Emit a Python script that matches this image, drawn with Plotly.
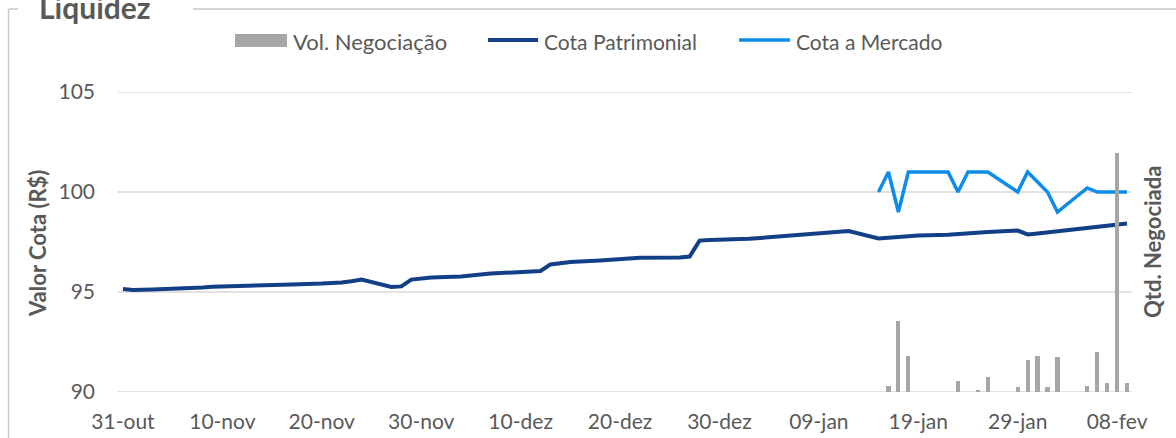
import plotly.graph_objects as go

# ---------------- data ----------------
cp_dates = ["2023-10-31", "2023-11-01", "2023-11-03", "2023-11-06", "2023-11-07", "2023-11-08",
            "2023-11-09", "2023-11-10", "2023-11-13", "2023-11-14", "2023-11-16", "2023-11-17",
            "2023-11-20", "2023-11-21", "2023-11-22", "2023-11-23", "2023-11-24", "2023-11-27",
            "2023-11-28", "2023-11-29", "2023-11-30", "2023-12-01", "2023-12-04", "2023-12-05",
            "2023-12-06", "2023-12-07", "2023-12-08", "2023-12-11", "2023-12-12", "2023-12-13",
            "2023-12-14", "2023-12-15", "2023-12-18", "2023-12-19", "2023-12-20", "2023-12-21",
            "2023-12-22", "2023-12-26", "2023-12-27", "2023-12-28", "2023-12-29", "2024-01-02",
            "2024-01-03", "2024-01-04", "2024-01-05", "2024-01-08", "2024-01-09", "2024-01-10",
            "2024-01-11", "2024-01-12", "2024-01-15", "2024-01-16", "2024-01-17", "2024-01-18",
            "2024-01-19", "2024-01-22", "2024-01-23", "2024-01-24", "2024-01-25", "2024-01-26",
            "2024-01-29", "2024-01-30", "2024-01-31", "2024-02-01", "2024-02-02", "2024-02-05",
            "2024-02-06", "2024-02-07", "2024-02-08", "2024-02-09"]
cota_patrimonial = [95.15, 95.10, 95.12, 95.16, 95.18, 95.22,
                    95.26, 95.28, 95.31, 95.33, 95.36, 95.38,
                    95.42, 95.44, 95.47, 95.54, 95.62, 95.25,
                    95.28, 95.62, 95.68, 95.73, 95.78, 95.84,
                    95.89, 95.92, 95.95, 96.00, 96.05, 96.38,
                    96.45, 96.50, 96.58, 96.62, 96.66, 96.70,
                    96.71, 96.72, 96.77, 97.57, 97.60, 97.66,
                    97.70, 97.74, 97.78, 97.88, 97.92, 97.96,
                    98.00, 98.05, 97.68, 97.72, 97.76, 97.80,
                    97.82, 97.86, 97.90, 97.94, 97.98, 98.00,
                    98.07, 97.88, 97.93, 97.98, 98.03, 98.22,
                    98.28, 98.33, 98.38, 98.42]

cm_dates = ["2024-01-15", "2024-01-16", "2024-01-17", "2024-01-18", "2024-01-19", "2024-01-22",
            "2024-01-23", "2024-01-24", "2024-01-25", "2024-01-26", "2024-01-29", "2024-01-30",
            "2024-01-31", "2024-02-01", "2024-02-02", "2024-02-05", "2024-02-06", "2024-02-07",
            "2024-02-08", "2024-02-09"]
cota_mercado = [100, 101, 99, 101, 101, 101,
                100, 101, 101, 101, 100, 101,
                100.5, 100, 99, 100.2, 100, 100,
                100, 100]

vol_dates = ["2024-01-16", "2024-01-17", "2024-01-18", "2024-01-23", "2024-01-25", "2024-01-26",
             "2024-01-29", "2024-01-30", "2024-01-31", "2024-02-01", "2024-02-02", "2024-02-05",
             "2024-02-06", "2024-02-07", "2024-02-08", "2024-02-09"]
vol_negociacao = [57, 710, 360, 107, 23, 153,
                  47, 317, 357, 53, 350, 63,
                  397, 87, 2390, 87]

tick_dates = ["2023-10-31", "2023-11-10", "2023-11-20", "2023-11-30", "2023-12-10", "2023-12-20",
              "2023-12-30", "2024-01-09", "2024-01-19", "2024-01-29", "2024-02-08"]
tick_labels = ["31-out", "10-nov", "20-nov", "30-nov", "10-dez", "20-dez",
               "30-dez", "09-jan", "19-jan", "29-jan", "08-fev"]
y_ticks = [90, 95, 100, 105]

series_names = ["Vol. Negociação", "Cota Patrimonial", "Cota a Mercado"]
title_text = "Liquidez"
y_title = "Valor Cota (R$)"
y2_title = "Qtd. Negociada"

# ---------------- style ----------------
W, H = 1176, 438
L, R, T, B = 118, 44, 92, 46
PW, PH = W - L - R, H - T - B
FONT = "Lato"
TXT = "#595959"
C_BAR = "#a6a6a6"
C_CP = "#123f85"
C_CM = "#0d8ce8"
GRID = "#d9d9d9"


def px(x):
    return (x - L) / PW


def py(y):
    return (H - B - y) / PH


fig = go.Figure()
fig.add_trace(go.Scatter(x=cp_dates, y=cota_patrimonial, mode="lines", name=series_names[1],
                         line=dict(color=C_CP, width=4), showlegend=False))
fig.add_trace(go.Scatter(x=cm_dates, y=cota_mercado, mode="lines", name=series_names[2],
                         line=dict(color=C_CM, width=3.5), showlegend=False))
fig.add_trace(go.Bar(x=vol_dates, y=vol_negociacao, name=series_names[0], yaxis="y2",
                     marker=dict(color=C_BAR, line=dict(width=0)),
                     width=0.42 * 86400000, showlegend=False))

shapes = []
annotations = []

# horizontal grid lines (drawn as shapes so the edge lines show too)
for v in y_ticks:
    shapes.append(dict(type="line", xref="paper", yref="y", x0=0, x1=1, y0=v, y1=v,
                       layer="below", line=dict(color=GRID, width=1.3)))

# frame (fieldset-like)
FR = "#c9c9c9"
shapes.append(dict(type="line", xref="paper", yref="paper", x0=px(8.5), x1=px(8.5),
                   y0=py(9), y1=py(H + 2), line=dict(color=FR, width=1.5)))
shapes.append(dict(type="line", xref="paper", yref="paper", x0=px(8.5), x1=px(18),
                   y0=py(9), y1=py(9), line=dict(color=FR, width=1.5)))
shapes.append(dict(type="line", xref="paper", yref="paper", x0=px(193), x1=px(W + 2),
                   y0=py(9), y1=py(9), line=dict(color=FR, width=1.5)))

# legend
shapes.append(dict(type="rect", xref="paper", yref="paper", x0=px(235), x1=px(287),
                   y0=py(47), y1=py(34), fillcolor=C_BAR, line=dict(width=0)))
shapes.append(dict(type="line", xref="paper", yref="paper", x0=px(488), x1=px(538),
                   y0=py(40), y1=py(40), line=dict(color=C_CP, width=4)))
shapes.append(dict(type="line", xref="paper", yref="paper", x0=px(739), x1=px(790),
                   y0=py(40), y1=py(40), line=dict(color=C_CM, width=3.5)))
for xt, name, fs in zip([291, 542, 794], series_names, [22, 21, 21]):
    annotations.append(dict(text=name, xref="paper", yref="paper", x=px(xt), y=py(41),
                            xanchor="left", yanchor="middle", showarrow=False,
                            font=dict(family=FONT, size=fs, color=TXT)))

# title
annotations.append(dict(text="<b>" + title_text + "</b>", xref="paper", yref="paper",
                        x=px(37), y=py(27), xanchor="left", yanchor="bottom", showarrow=False,
                        font=dict(family=FONT, size=30, color=TXT)))
# axis titles
annotations.append(dict(text="<b>" + y_title + "</b>", xref="paper", yref="paper",
                        x=px(38), y=py(244), xanchor="center", yanchor="middle", textangle=-90,
                        showarrow=False, font=dict(family=FONT, size=22, color=TXT)))
annotations.append(dict(text="<b>" + y2_title + "</b>", xref="paper", yref="paper",
                        x=px(1152), y=py(242), xanchor="center", yanchor="middle", textangle=-90,
                        showarrow=False, font=dict(family=FONT, size=22, color=TXT)))

fig.update_layout(
    width=W, height=H, autosize=False,
    margin=dict(l=L, r=R, t=T, b=B, pad=0, autoexpand=False),
    paper_bgcolor="white", plot_bgcolor="white",
    font=dict(family=FONT, size=21, color=TXT),
    showlegend=False,
    bargap=0,
    shapes=shapes,
    annotations=annotations,
    xaxis=dict(type="date", range=["2023-10-30 12:00", "2024-02-09 12:00"],
               tickvals=tick_dates, ticktext=tick_labels, showgrid=False, automargin=False,
               zeroline=False, showline=False, ticks="", ticklabelstandoff=15,
               tickfont=dict(family=FONT, size=21, color=TXT)),
    yaxis=dict(range=[90, 105], tickvals=y_ticks, showgrid=False, automargin=False,
               zeroline=False, showline=False, ticks="",
               ticklabelstandoff=22, tickfont=dict(family=FONT, size=21, color=TXT)),
    yaxis2=dict(range=[0, 3000], overlaying="y", side="right", showgrid=False, automargin=False,
                showticklabels=False, zeroline=False, showline=False, ticks=""),
)

fig.write_html("out.html", config={"displayModeBar": False, "responsive": False},
               post_script="document.body.style.margin='0';document.body.style.overflow='hidden';")
